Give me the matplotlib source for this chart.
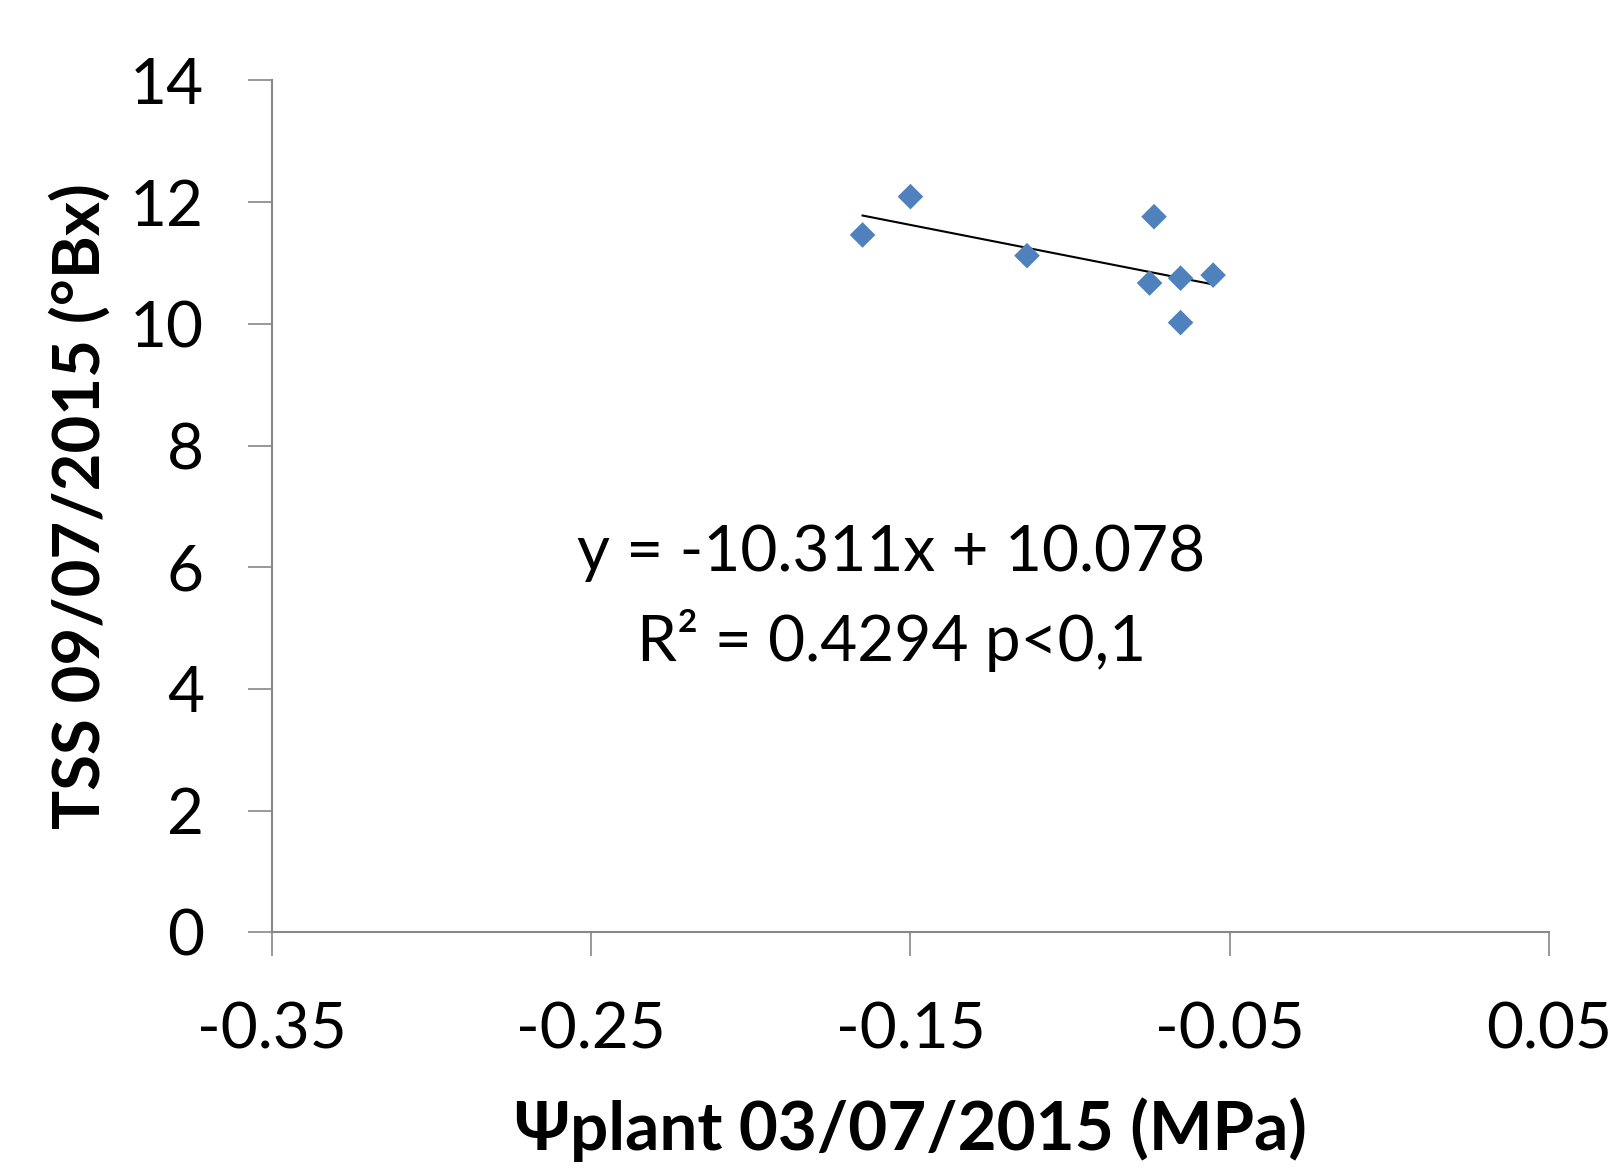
import matplotlib
matplotlib.use("Agg")
import matplotlib.pyplot as plt
import numpy as np

# data
psi_plant = [-0.165, -0.150, -0.1135, -0.0737, -0.0751, -0.0654, -0.0654, -0.0552]
tss = [11.46, 12.09, 11.12, 11.76, 10.67, 10.75, 10.02, 10.80]

slope = -10.311
intercept = 10.078
r2 = 0.4294

x_ticks = [-0.35, -0.25, -0.15, -0.05, 0.05]
x_tick_labels = ["-0.35", "-0.25", "-0.15", "-0.05", "0.05"]
y_ticks = [0, 2, 4, 6, 8, 10, 12, 14]

plt.rcParams["font.family"] = ["Lato", "DejaVu Sans"]
FS = 46

fig = plt.figure(figsize=(16.15, 11.7), dpi=100)
ax = fig.add_axes([0.1684, 0.2031, 0.7907, 0.7282])

ax.scatter(psi_plant, tss, marker="D", s=170, color="#4F81BD",
           edgecolors="none", zorder=3)

# linear trendline over the data range
xs = np.array([min(psi_plant), max(psi_plant)])
ax.plot(xs, slope * xs + intercept, color="black", linewidth=1.5, zorder=2)

ax.text(-0.156, 6.23, f"y = {slope}x + {intercept}",
        ha="center", va="center", fontsize=FS)
ax.text(-0.156, 4.79, f"R² = {r2} p<0,1",
        ha="center", va="center", fontsize=FS)

ax.set_xlim(-0.35, 0.05)
ax.set_ylim(0, 14)
ax.set_xticks(x_ticks)
ax.set_xticklabels(x_tick_labels)
ax.set_yticks(y_ticks)

for side in ["top", "right"]:
    ax.spines[side].set_visible(False)
for side in ["left", "bottom"]:
    ax.spines[side].set_color("#888888")
    ax.spines[side].set_linewidth(1.5)
ax.tick_params(axis="both", direction="out", length=17, width=1.2,
               color="#888888", labelsize=FS)
ax.tick_params(axis="x", pad=33)
ax.tick_params(axis="y", pad=32)

ax.set_xlabel("Ψplant 03/07/2015 (MPa)", fontsize=48.5, fontweight="bold",
              labelpad=27)
ax.set_ylabel("TSS 09/07/2015 (°Bx)", fontsize=47, fontweight="bold",
              labelpad=14)

fig.savefig("out.png", dpi=100)
